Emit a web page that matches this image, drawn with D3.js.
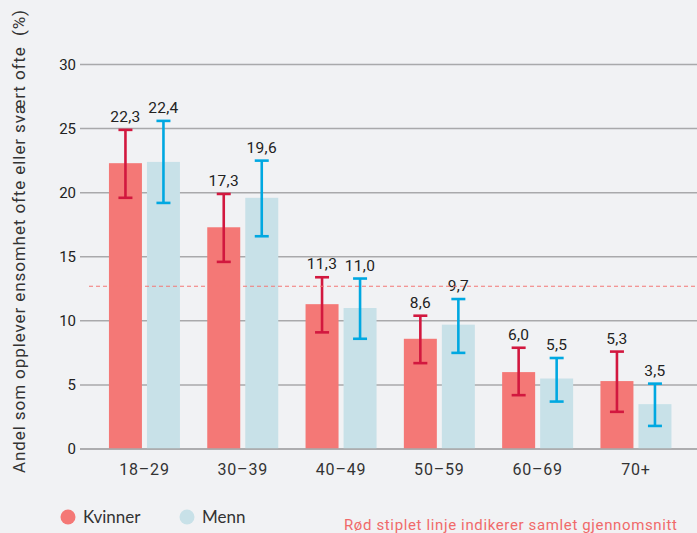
<!DOCTYPE html>
<html>
<head>
<meta charset="utf-8">
<script src="https://cdn.jsdelivr.net/npm/d3@7"></script>
<style>
  html, body { margin: 0; padding: 0; background: #F1F2F4; }
  svg { display: block; }
</style>
</head>
<body>
<svg id="chart" width="697" height="533"></svg>
<script>
const categories = ["18–29", "30–39", "40–49", "50–59", "60–69", "70+"];
const series = ["Kvinner", "Menn"];
const kvinner = [22.3, 17.3, 11.3, 8.6, 6.0, 5.3];
const menn = [22.4, 19.6, 11.0, 9.7, 5.5, 3.5];
const kvinnerLow = [19.6, 14.6, 9.1, 6.7, 4.2, 2.9];
const kvinnerHigh = [24.9, 19.9, 13.4, 10.4, 7.9, 7.6];
const mennLow = [19.2, 16.6, 8.6, 7.5, 3.7, 1.8];
const mennHigh = [25.6, 22.5, 13.3, 11.7, 7.1, 5.1];
const yTicks = [0, 5, 10, 15, 20, 25, 30];
const average = 12.7;
const yTitle = "Andel som opplever ensomhet ofte eller svært ofte  (%)";
const note = "Rød stiplet linje indikerer samlet gjennomsnitt";

const barColor = { Kvinner: "#F47876", Menn: "#C8E1E8" };
const errColor = { Kvinner: "#D2183F", Menn: "#00A8E1" };

const svg = d3.select("#chart");
const y = d3.scaleLinear().domain([0, 30]).range([449, 64.5]);
const x0 = d3.scaleBand().domain(categories).range([95.3, 685.1]).paddingInner(0).paddingOuter(0);
const x1 = d3.scaleBand().domain(series).range([0, 71]).paddingInner(0.132).paddingOuter(0);

const data = categories.map((c, i) => ({
  cat: c,
  vals: [
    { s: "Kvinner", v: kvinner[i], lo: kvinnerLow[i], hi: kvinnerHigh[i] },
    { s: "Menn", v: menn[i], lo: mennLow[i], hi: mennHigh[i] }
  ]
}));

// gridlines + y axis
const yAxis = d3.axisLeft(y).tickValues(yTicks).tickSize(0).tickPadding(4).tickFormat(d3.format("d"));
const yg = svg.append("g").attr("transform", "translate(80,0)").call(yAxis);
yg.select(".domain").remove();
yg.selectAll("text").attr("font-family", "Roboto, sans-serif").attr("font-size", 15).attr("fill", "#222");
svg.append("g").selectAll("line").data(yTicks).join("line")
  .attr("x1", 80).attr("x2", 697)
  .attr("y1", d => y(d)).attr("y2", d => y(d))
  .attr("stroke", "#A9A9AB").attr("stroke-width", 1.5);

// bars
const groups = svg.append("g").selectAll("g").data(data).join("g")
  .attr("transform", d => `translate(${x0(d.cat) + x0.bandwidth() / 2 - 35.5},0)`);

groups.selectAll("rect").data(d => d.vals).join("rect")
  .attr("x", d => x1(d.s)).attr("width", x1.bandwidth())
  .attr("y", d => y(d.v)).attr("height", d => y(0) - y(d.v))
  .attr("fill", d => barColor[d.s]);

// redraw baseline over bars
svg.append("line").attr("x1", 80).attr("x2", 697).attr("y1", y(0)).attr("y2", y(0))
  .attr("stroke", "#A9A9AB").attr("stroke-width", 1.5);

// average dashed line
svg.append("line").attr("x1", 89).attr("x2", 697)
  .attr("y1", y(average)).attr("y2", y(average))
  .attr("stroke", "#F47876").attr("stroke-width", 1.2).attr("stroke-dasharray", "4,3");

// error bars
const eb = groups.selectAll("g.err").data(d => d.vals).join("g").attr("class", "err")
  .attr("stroke", d => errColor[d.s]).attr("stroke-width", 2.6);
eb.append("line")
  .attr("x1", d => x1(d.s) + x1.bandwidth() / 2).attr("x2", d => x1(d.s) + x1.bandwidth() / 2)
  .attr("y1", d => y(d.lo)).attr("y2", d => y(d.hi));
eb.append("line")
  .attr("x1", d => x1(d.s) + x1.bandwidth() / 2 - 7).attr("x2", d => x1(d.s) + x1.bandwidth() / 2 + 7)
  .attr("y1", d => y(d.hi)).attr("y2", d => y(d.hi));
eb.append("line")
  .attr("x1", d => x1(d.s) + x1.bandwidth() / 2 - 7).attr("x2", d => x1(d.s) + x1.bandwidth() / 2 + 7)
  .attr("y1", d => y(d.lo)).attr("y2", d => y(d.lo));

// value labels
groups.selectAll("text.val").data(d => d.vals).join("text").attr("class", "val")
  .attr("x", d => x1(d.s) + x1.bandwidth() / 2)
  .attr("y", d => y(d.hi) - 8)
  .attr("text-anchor", "middle")
  .attr("font-family", "Roboto, sans-serif").attr("font-size", 15.5).attr("letter-spacing", 0.3).attr("fill", "#222")
  .text(d => d3.format(".1f")(d.v).replace(".", ","));

// x axis labels
const xAxis = d3.axisBottom(x0).tickSize(0).tickPadding(0);
const xg = svg.append("g").attr("transform", `translate(0,${y(0) + 15})`).call(xAxis);
xg.select(".domain").remove();
xg.selectAll("text").attr("font-family", "Roboto, sans-serif").attr("font-size", 16)
  .attr("letter-spacing", 0.8).attr("fill", "#333");

// y title
svg.append("text")
  .attr("transform", "translate(25,473) rotate(-90)")
  .attr("font-family", "Roboto, sans-serif").attr("font-size", 17).attr("fill", "#333")
  .attr("textLength", 463).attr("lengthAdjust", "spacing")
  .style("white-space", "pre")
  .text(yTitle);

// legend
const legend = svg.append("g").selectAll("g").data(series).join("g")
  .attr("transform", (d, i) => `translate(${68 + i * 119},517)`);
legend.append("circle").attr("r", 7.5).attr("fill", d => barColor[d]);
legend.append("text").attr("x", 15).attr("y", 6)
  .attr("font-family", "Lato, sans-serif").attr("font-size", 17).attr("fill", "#333")
  .text(d => d);

// note
svg.append("text").attr("x", 344).attr("y", 530)
  .attr("font-family", "Roboto, sans-serif").attr("font-size", 15).attr("fill", "#F06A6A")
  .attr("textLength", 333).attr("lengthAdjust", "spacing")
  .text(note);
</script>
</body>
</html>
